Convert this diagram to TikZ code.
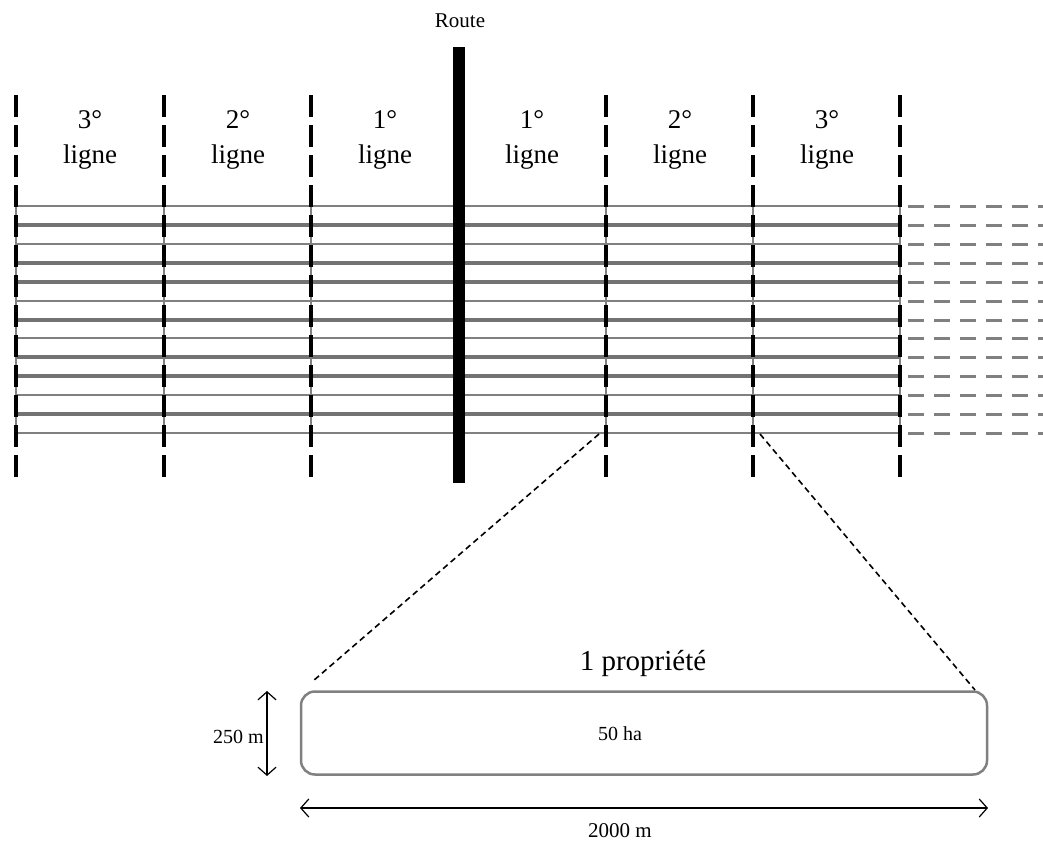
\documentclass[tikz,border=0pt]{standalone}
\usepackage{fontspec}
\setmainfont{Liberation Serif}
\usetikzlibrary{arrows.meta}
\begin{document}
\begin{tikzpicture}[x=1pt,y=-1pt,
  thinline/.style={draw=black!50,line width=2pt},
  thickline/.style={draw=black!55,line width=3.6pt},
  extline/.style={draw=black!50,line width=3pt,dash pattern=on 16pt off 10pt},
  boundary/.style={draw=black,line width=4pt,dash pattern=on 22pt off 8pt},
  collabel/.style={font=\fontsize{27}{35}\selectfont,align=center,inner sep=0pt,anchor=base},
  small/.style={font=\fontsize{20}{22}\selectfont,inner sep=0pt,anchor=base},
  dimarrow/.style={draw=black,line width=1.2pt,{Straight Barb[length=8pt,width=18pt]}-{Straight Barb[length=8pt,width=18pt]}},
  zoomline/.style={draw=black,line width=1.6pt,dash pattern=on 6pt off 4pt}]
\useasboundingbox (0,0) rectangle (1043,841);
% horizontal property lines
\foreach \y in {206,244,301,338,395,433}{
  \draw[thinline] (16,\y) -- (900,\y);
  \draw[extline] (908,\y) -- (1043,\y);}
\foreach \y in {225,263,282,320,357,376,414}{
  \draw[thickline] (16,\y) -- (900,\y);
  \draw[extline] (908,\y) -- (1043,\y);}
% gray vertical edges
\foreach \x in {16,164,311,606,753,900}
  \draw[thinline] (\x,206) -- (\x,433);
% black dashed boundaries
\foreach \x in {16,164,311,606,753,900}
  \draw[boundary] (\x,95) -- (\x,483);
% route
\fill[black] (453,47) rectangle (465,483);
\node[small,font=\fontsize{21}{23}\selectfont] (route) at (460,27) {Route};
% column labels
\node[collabel] (c1) at (90,163) {3°\\ligne};
\node[collabel] (c2) at (238,163) {2°\\ligne};
\node[collabel] (c3) at (385,163) {1°\\ligne};
\node[collabel] (c4) at (532,163) {1°\\ligne};
\node[collabel] (c5) at (680,163) {2°\\ligne};
\node[collabel] (c6) at (827,163) {3°\\ligne};
% property
\node[draw=black!50,line width=2.5pt,rounded corners=14pt,minimum width=686pt,minimum height=83pt,inner sep=0pt] (prop) at (644,733) {};
\node[small] (area) at (620,740) {50 ha};
\node[collabel,font=\fontsize{29}{32}\selectfont] (title) at (643,670) {1 propriété};
\coordinate (zl1) at (599,434);
\coordinate (zl2) at (313,681);
\coordinate (zr1) at (760,434);
\coordinate (zr2) at (975,690);
\draw[zoomline] (zl1) -- (zl2);
\draw[zoomline] (zr1) -- (zr2);
% dimensions
\coordinate (v1) at (267,691);
\coordinate (v2) at (267,776);
\draw[dimarrow] (v1) -- (v2);
\node[small,anchor=base east] (h) at (264,743) {250 m};
\coordinate (h1) at (300,808);
\coordinate (h2) at (988,808);
\draw[dimarrow] (h1) -- (h2);
\node[small,font=\fontsize{21}{23}\selectfont] (w) at (620,837) {2000 m};
\end{tikzpicture}
\end{document}
